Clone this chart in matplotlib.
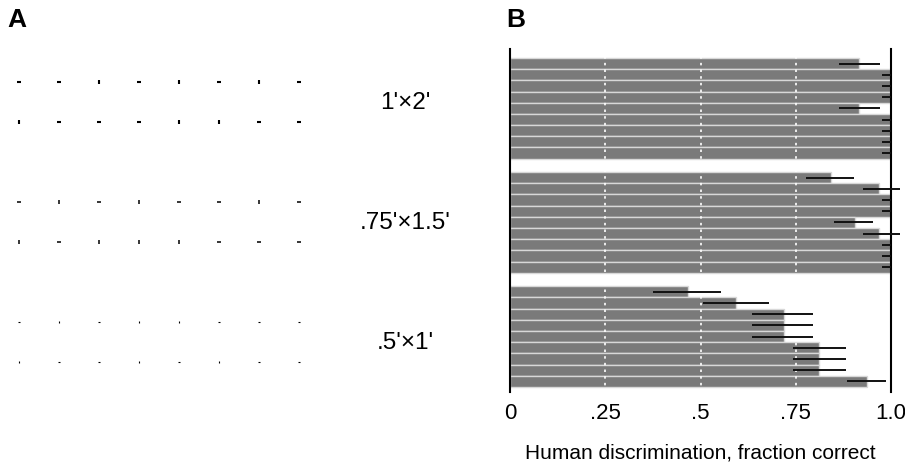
import numpy as np
import matplotlib
matplotlib.use("Agg")
import matplotlib.pyplot as plt

plt.rcParams['font.family'] = ['Liberation Sans', 'DejaVu Sans']

# panel A: dash orientation in each row of the three arrays (h = horizontal, v = vertical)
rows_a = [
    "hhvhvhvh",
    "vhhhvvhh",
    "hvhvhhvh",
    "vhvvvhhh",
    "hvhvvhhh",
    "vhhvhvhh",
]
size_labels = ["1'\u00d72'", ".75'\u00d71.5'", ".5'\u00d71'"]

# panel B: fraction correct per condition, grouped by dash size
frac_1x2 = [0.917, 1.0, 1.0, 1.0, 0.917, 1.0, 1.0, 1.0, 1.0]
lo_1x2 = [0.053, 0.024, 0.024, 0.024, 0.053, 0.024, 0.024, 0.024, 0.024]
hi_1x2 = [0.053, 0, 0, 0, 0.053, 0, 0, 0, 0]

frac_75 = [0.843, 0.969, 1.0, 1.0, 0.906, 0.969, 1.0, 1.0, 1.0]
lo_75 = [0.066, 0.042, 0.024, 0.024, 0.056, 0.042, 0.024, 0.024, 0.024]
hi_75 = [0.060, 0.055, 0, 0, 0.047, 0.055, 0, 0, 0]

frac_5 = [0.467, 0.593, 0.719, 0.719, 0.719, 0.811, 0.811, 0.811, 0.937]
lo_5 = [0.091, 0.086, 0.083, 0.083, 0.083, 0.068, 0.068, 0.068, 0.052]
hi_5 = [0.087, 0.087, 0.076, 0.076, 0.076, 0.071, 0.071, 0.071, 0.050]

xticks = [0, 0.25, 0.5, 0.75, 1.0]
xticklabels = ["0", ".25", ".5", ".75", "1.0"]

fig = plt.figure(figsize=(9.05, 4.64), dpi=100)

# ---- panel A ----
axa = fig.add_axes([0, 0, 460 / 905, 1])
axa.set_xlim(-0.475, 11.025)
axa.set_ylim(9.525, -2.075)
axa.axis("off")
dash_len = [3.0, 2.3, 1.6]
dash_w = [1.5, 1.1, 0.8]
for r, row in enumerate(rows_a):
    g = r // 2
    y = 3 * g + (r % 2)
    for c, o in enumerate(row):
        axa.plot(c, y, marker="_" if o == "h" else "|", color="black",
                 markersize=dash_len[g], markeredgewidth=dash_w[g])
for g, lab in enumerate(size_labels):
    axa.text(9.65, 3 * g + 0.5, lab, fontsize=17.5, ha="center", va="center")

fig.text(7 / 905, 1 - 20 / 464, "A", fontsize=19, fontweight="bold", va="center")
fig.text(506 / 905, 1 - 20 / 464, "B", fontsize=19, fontweight="bold", va="center")

# ---- panel B ----
ax = fig.add_axes([510 / 905, 1 - 393 / 464, 381 / 905, 343 / 464])
groups = [(frac_1x2, lo_1x2, hi_1x2), (frac_75, lo_75, hi_75), (frac_5, lo_5, hi_5)]
for g, (vals, lo, hi) in enumerate(groups):
    pos = g * 10.2 + np.arange(len(vals))
    ax.barh(pos, vals, height=1.0, color="#7a7a7a", edgecolor="#d8d8d8",
            linewidth=1.0, zorder=1)
    ax.errorbar(vals, pos, xerr=[lo, hi], fmt="none", ecolor="#111111",
                elinewidth=1.4, capsize=0, zorder=3, clip_on=False)
for v in xticks[1:-1]:
    ax.axvline(v, color="white", linestyle=(0, (1.5, 2.5)), linewidth=1.2, zorder=2)

ax.set_xlim(0, 1.0)
ax.set_ylim(29.35, -1.3)
ax.set_yticks([])
ax.set_xticks(xticks)
ax.set_xticklabels(xticklabels, fontsize=16)
ax.tick_params(axis="x", length=0, pad=7)
ax.spines["top"].set_visible(False)
ax.spines["bottom"].set_visible(False)
ax.spines["left"].set_linewidth(1.5)
ax.spines["right"].set_linewidth(1.5)
ax.set_xlabel("Human discrimination, fraction correct", fontsize=15, labelpad=14)

fig.savefig("out.png", dpi=100)
